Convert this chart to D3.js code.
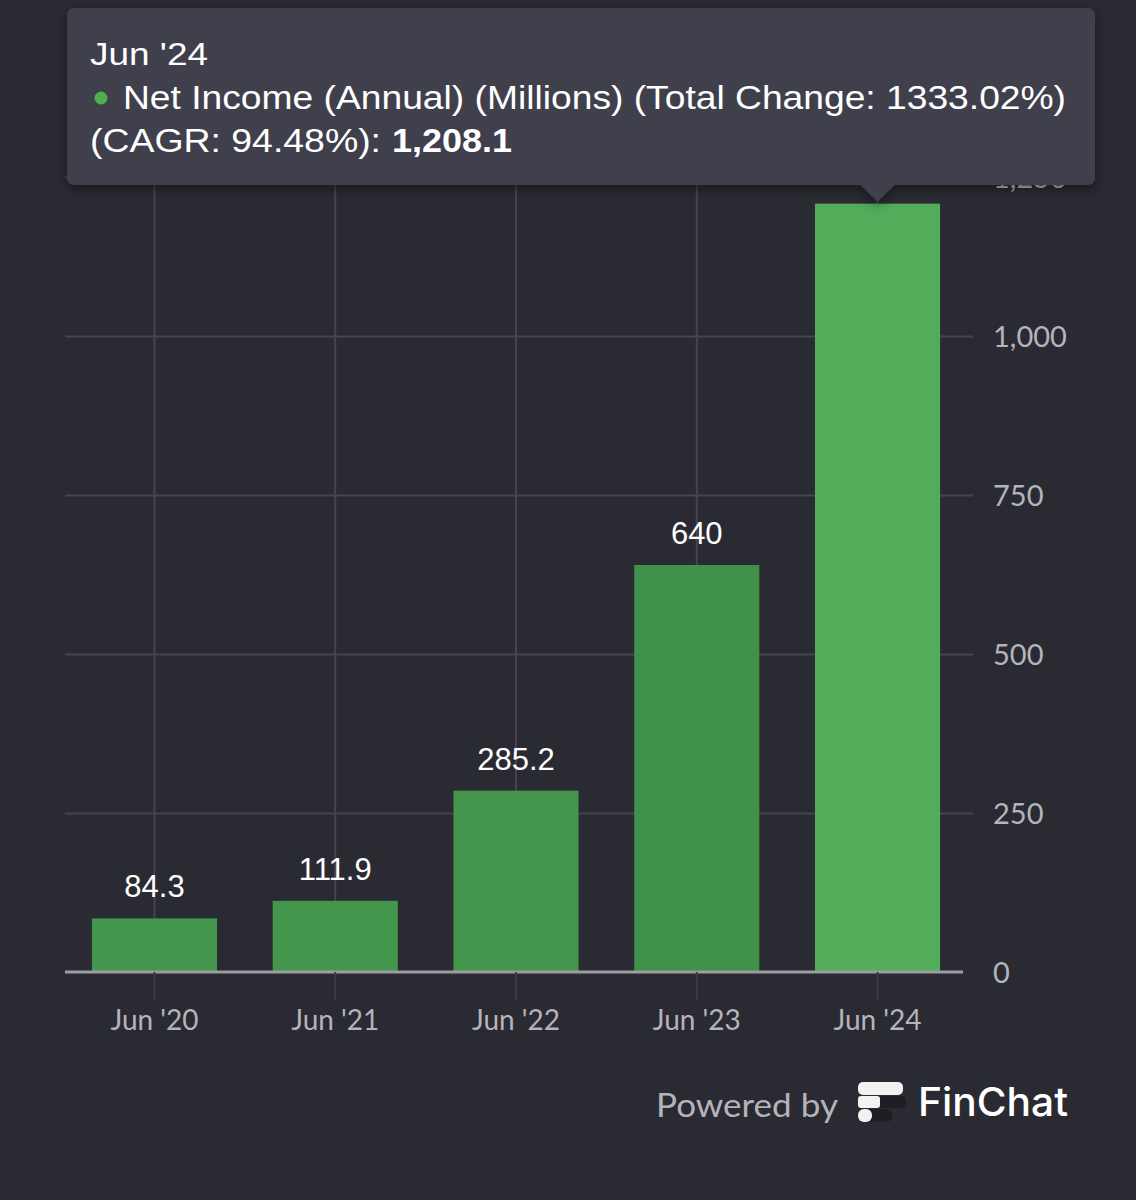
<!DOCTYPE html>
<html>
<head>
<meta charset="utf-8">
<script src="https://cdn.jsdelivr.net/npm/d3@7"></script>
<style>
  html, body { margin: 0; padding: 0; background: #2a2a32; }
  svg { display: block; }
</style>
</head>
<body>
<svg id="chart" width="1136" height="1200"></svg>
<script>
// ---- Data ----
const categories = ["Jun '20", "Jun '21", "Jun '22", "Jun '23", "Jun '24"];
const netIncome = [84.3, 111.9, 285.2, 640, 1208.1];
const valueLabels = ["84.3", "111.9", "285.2", "640", "1,208.1"];
const yTicks = [0, 250, 500, 750, 1000, 1250];
const tooltipTitle = "Jun '24";
const tooltipSeries = "Net Income (Annual) (Millions) (Total Change: 1333.02%)";
const tooltipLine3 = "(CAGR: 94.48%):";
const tooltipValue = "1,208.1";
const highlightIndex = 4;

(function () {
const svg = d3.select("#chart");
const W = 1136, H = 1200;
svg.append("rect").attr("width", W).attr("height", H).attr("fill", "#2a2a32");

const pLeft = 65, pRight = 967, gridRight = 963, pTop = 177, pBottom = 972;
const x = d3.scaleBand().domain(categories).range([pLeft, pRight]).paddingInner(0.308).paddingOuter(0.149);
const y = d3.scaleLinear().domain([0, 1250]).range([pBottom, pTop]);

const axisFont = "Lato, 'Open Sans', sans-serif";
const valueFont = "'Liberation Sans', Arial, Helvetica, sans-serif";

// Horizontal gridlines
const gridY = d3.axisRight(y).tickValues(yTicks.filter(d => d > 0)).tickSize(gridRight - pLeft + 10).tickFormat("");
svg.append("g").attr("transform", `translate(${pLeft},0)`).call(gridY)
  .call(g => g.select(".domain").remove())
  .call(g => g.selectAll("line").attr("stroke", "#45454e").attr("stroke-width", 2));

// Vertical gridlines at category centers
const gridX = d3.axisBottom(x).tickSize(-(pBottom - pTop)).tickFormat("");
svg.append("g").attr("transform", `translate(0,${pBottom})`).call(gridX)
  .call(g => g.select(".domain").remove())
  .call(g => g.selectAll("line").attr("stroke", "#45454e").attr("stroke-width", 2));

// Bars
svg.append("g").selectAll("rect").data(netIncome).join("rect")
  .attr("x", (d, i) => x(categories[i]))
  .attr("width", x.bandwidth())
  .attr("y", d => y(d))
  .attr("height", d => y(0) - y(d))
  .attr("fill", (d, i) => i === highlightIndex ? "#52ad5b" : (i === 3 ? "#40914a" : "#43964b"));

// Value labels (highlighted bar's label is covered by tooltip)
svg.append("g").selectAll("text").data(netIncome).join("text")
  .filter((d, i) => i !== highlightIndex)
  .attr("x", d => x(categories[netIncome.indexOf(d)]) + x.bandwidth() / 2)
  .attr("y", d => y(d) - 21)
  .attr("text-anchor", "middle")
  .attr("font-family", valueFont)
  .attr("font-size", 31)
  .attr("fill", "#ffffff")
  .text(d => valueLabels[netIncome.indexOf(d)]);

// X axis
const xAxis = d3.axisBottom(x).tickSize(28).tickPadding(20);
svg.append("g").attr("transform", `translate(0,${pBottom})`).call(xAxis)
  .call(g => g.select(".domain").attr("stroke", "#9c9ca2").attr("stroke-width", 3)
    .attr("d", `M${pLeft},0H${gridRight}`))
  .call(g => g.selectAll(".tick line").attr("stroke", "#3a3a42").attr("stroke-width", 2))
  .call(g => g.selectAll(".tick text").attr("font-family", axisFont).attr("font-size", 28)
    .attr("fill", "#b4b4ba").attr("dy", "0.35em").attr("y", 48));

// Y axis labels on right
const yAxis = d3.axisRight(y).tickValues(yTicks).tickSize(0).tickPadding(30).tickFormat(d3.format(","));
svg.append("g").attr("transform", `translate(${gridRight},0)`).call(yAxis)
  .call(g => g.select(".domain").remove())
  .call(g => g.selectAll(".tick text").attr("font-family", axisFont).attr("font-size", 29)
    .attr("fill", "#b4b4ba").attr("dy", "0.35em"));

// Tooltip
const defs = svg.append("defs");
const f = defs.append("filter").attr("id", "shadow").attr("x", "-10%").attr("y", "-20%").attr("width", "120%").attr("height", "140%");
f.append("feDropShadow").attr("dx", 0).attr("dy", 4).attr("stdDeviation", 6).attr("flood-color", "#000").attr("flood-opacity", 0.45);

const tipX = x(categories[highlightIndex]) + x.bandwidth() / 2;
const tipY = y(netIncome[highlightIndex]) - 2;
const tg = svg.append("g");
tg.append("path")
  .attr("d", `M67,16 Q67,8 75,8 H1087 Q1095,8 1095,16 V177 Q1095,185 1087,185 H${tipX + 17} L${tipX},${tipY} L${tipX - 17},185 H75 Q67,185 67,177 Z`)
  .attr("fill", "#41404e")
  .attr("filter", "url(#shadow)");

tg.append("text").attr("x", 90).attr("y", 65)
  .attr("font-family", valueFont).attr("font-size", 31).attr("fill", "#ffffff")
  .attr("textLength", 118).attr("lengthAdjust", "spacingAndGlyphs")
  .text(tooltipTitle);
tg.append("circle").attr("cx", 101).attr("cy", 98).attr("r", 6.5).attr("fill", "#4caf50");
tg.append("text").attr("x", 123).attr("y", 109)
  .attr("font-family", valueFont).attr("font-size", 33).attr("fill", "#ffffff")
  .attr("textLength", 943).attr("lengthAdjust", "spacingAndGlyphs")
  .text(tooltipSeries);
const l3 = tg.append("text").attr("x", 90).attr("y", 152)
  .attr("font-family", valueFont).attr("font-size", 33).attr("fill", "#ffffff");
l3.append("tspan").attr("textLength", 291).attr("lengthAdjust", "spacingAndGlyphs").text(tooltipLine3);
l3.append("tspan").attr("font-weight", "bold").attr("x", 392).attr("textLength", 120).attr("lengthAdjust", "spacingAndGlyphs").text(tooltipValue);

// Powered by FinChat
const pg = svg.append("g");
pg.append("text").attr("x", 656).attr("y", 1117)
  .attr("font-family", axisFont).attr("font-size", 32).attr("fill", "#b4b4ba")
  .attr("textLength", 182).attr("lengthAdjust", "spacingAndGlyphs")
  .text("Powered by");
pg.append("rect").attr("x", 868).attr("y", 1096).attr("width", 38).attr("height", 12).attr("rx", 5).attr("fill", "#1e1e24");
pg.append("rect").attr("x", 866).attr("y", 1109).attr("width", 26).attr("height", 13).attr("rx", 6).attr("fill", "#1e1e24");
pg.append("rect").attr("x", 858).attr("y", 1082).attr("width", 45).attr("height", 13).attr("rx", 5).attr("fill", "#f2f2f2");
pg.append("rect").attr("x", 858).attr("y", 1096).attr("width", 22).attr("height", 12).attr("rx", 3).attr("fill", "#f2f2f2");
pg.append("rect").attr("x", 858).attr("y", 1109).attr("width", 14).attr("height", 13).attr("rx", 6).attr("fill", "#f2f2f2");
pg.append("text").attr("x", 918).attr("y", 1116)
  .attr("font-family", "Inter, Lato, sans-serif").attr("font-size", 40).attr("font-weight", 500).attr("fill", "#ffffff")
  .attr("textLength", 150).attr("lengthAdjust", "spacingAndGlyphs")
  .text("FinChat");
})();
</script>
</body>
</html>
